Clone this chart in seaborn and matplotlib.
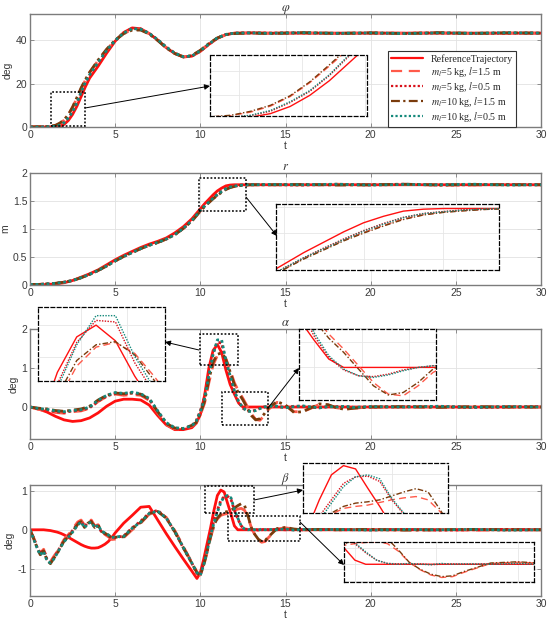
import numpy as np
import matplotlib
matplotlib.use("Agg")
import matplotlib.pyplot as plt
import seaborn as sns
from matplotlib.patches import Rectangle, FancyArrowPatch
from matplotlib.lines import Line2D
from matplotlib.ticker import MaxNLocator

# ---------------- data ----------------
t_phi = [0, 0.5, 1, 1.25, 1.5, 1.75, 2, 2.25, 2.5, 2.75, 3, 3.25, 3.5, 4, 4.5, 5, 5.5, 6, 6.5, 7,
         7.5, 8, 8.5, 9, 9.5, 10, 10.5, 11, 11.5, 12, 13, 14, 16, 18, 20, 22, 24, 26, 28, 30]
phi_ref = [0, 0, 0, 0, 0.1, 0.3, 1.2, 3.0, 5.8, 9.5, 14.0, 18.5, 22.5, 28.0, 34.0, 39.5, 43.5, 45.6, 45.2, 43.0,
           40.0, 36.5, 33.8, 32.2, 32.6, 34.8, 38.0, 40.8, 42.5, 43.2, 43.3, 43.2, 43.2, 43.2, 43.2, 43.2, 43.2, 43.2, 43.2, 43.2]
phi_m5_l15 = [0, 0.1, 0.2, 0.35, 0.7, 1.6, 3.1, 5.5, 9.0, 13.2, 17.6, 21.5, 25.0, 30.6, 35.6, 39.9, 43.0, 44.8, 44.8, 42.9,
              39.9, 36.5, 33.9, 32.3, 32.8, 35.2, 38.3, 40.9, 42.5, 43.1, 43.2, 43.1, 43.3, 43.0, 43.3, 43.1, 43.3, 43.0, 43.2, 43.2]
phi_m5_l05 = [0, 0, 0.1, 0.2, 0.3, 0.7, 1.8, 4.0, 6.8, 10.8, 15.7, 20.2, 23.8, 29.6, 35.0, 39.7, 43.3, 45.4, 45.1, 43.1,
              40.1, 36.7, 34.0, 32.3, 32.6, 34.9, 38.1, 40.9, 42.6, 43.2, 43.3, 43.2, 43.3, 43.0, 43.2, 43.1, 43.3, 43.0, 43.2, 43.2]
phi_m10_l15 = [0, 0.1, 0.2, 0.4, 0.8, 1.8, 3.3, 5.7, 9.2, 13.5, 18.0, 21.8, 25.2, 30.8, 35.8, 40.0, 43.0, 44.6, 44.6, 42.8,
               39.8, 36.4, 33.8, 32.3, 32.9, 35.3, 38.4, 41.0, 42.5, 43.0, 43.3, 43.0, 43.4, 43.1, 43.3, 43.0, 43.4, 43.1, 43.3, 43.2]
phi_m10_l05 = [0, 0, 0.1, 0.2, 0.3, 0.8, 2.0, 4.2, 7.0, 11.0, 16.0, 20.5, 24.0, 29.8, 35.2, 39.8, 43.3, 45.3, 45.0, 43.1,
               40.2, 36.8, 34.0, 32.3, 32.7, 35.0, 38.2, 41.0, 42.6, 43.2, 43.3, 43.1, 43.4, 43.1, 43.3, 43.0, 43.3, 43.1, 43.4, 43.2]

t_r = [0, 0.5, 1, 1.5, 2, 2.5, 3, 3.5, 4, 4.5, 5, 5.5, 6, 6.5, 7, 7.5, 8, 8.5, 9, 9.5, 10,
       10.25, 10.5, 10.75, 11, 11.25, 11.5, 11.75, 12, 12.25, 12.5, 12.75, 13, 14,
       16, 18, 20, 22, 24, 26, 28, 30]
r_ref = [0, 0, 0.01, 0.02, 0.04, 0.08, 0.14, 0.2, 0.27, 0.36, 0.45, 0.53, 0.6, 0.67, 0.73, 0.78, 0.84, 0.93, 1.04, 1.18, 1.36,
         1.45, 1.53, 1.61, 1.68, 1.73, 1.77, 1.785, 1.79, 1.79, 1.79, 1.79, 1.79, 1.79,
         1.79, 1.79, 1.79, 1.79, 1.79, 1.79, 1.79, 1.79]
r_m5_l15 = [0.01, 0.01, 0.02, 0.03, 0.05, 0.08, 0.13, 0.19, 0.26, 0.34, 0.43, 0.51, 0.58, 0.65, 0.71, 0.76, 0.82, 0.9, 1.01, 1.14, 1.32,
            1.405, 1.475, 1.545, 1.605, 1.66, 1.71, 1.742, 1.762, 1.774, 1.783, 1.788, 1.79, 1.79,
            1.79, 1.8, 1.785, 1.795, 1.79, 1.785, 1.795, 1.79]
r_m5_l05 = [0.01, 0.01, 0.02, 0.03, 0.05, 0.08, 0.13, 0.19, 0.26, 0.34, 0.43, 0.51, 0.58, 0.65, 0.71, 0.76, 0.82, 0.9, 1.01, 1.15, 1.33,
            1.41, 1.485, 1.555, 1.62, 1.675, 1.722, 1.752, 1.767, 1.78, 1.786, 1.79, 1.79, 1.79,
            1.785, 1.795, 1.79, 1.8, 1.785, 1.79, 1.795, 1.79]
r_m10_l15 = [0.01, 0.01, 0.02, 0.03, 0.05, 0.08, 0.13, 0.19, 0.26, 0.34, 0.43, 0.51, 0.58, 0.65, 0.71, 0.76, 0.82, 0.9, 1.01, 1.14, 1.32,
             1.40, 1.47, 1.54, 1.60, 1.655, 1.705, 1.74, 1.76, 1.772, 1.782, 1.788, 1.79, 1.79,
             1.795, 1.785, 1.79, 1.8, 1.785, 1.795, 1.79, 1.79]
r_m10_l05 = [0.01, 0.01, 0.02, 0.03, 0.05, 0.08, 0.13, 0.19, 0.26, 0.34, 0.43, 0.51, 0.58, 0.65, 0.71, 0.76, 0.82, 0.9, 1.01, 1.15, 1.33,
             1.41, 1.48, 1.55, 1.615, 1.67, 1.72, 1.75, 1.765, 1.778, 1.785, 1.79, 1.79, 1.795,
             1.79, 1.8, 1.785, 1.795, 1.79, 1.8, 1.785, 1.79]

t_a = [0, 0.5, 1, 1.5, 2, 2.5, 3, 3.5, 4, 4.5, 5, 5.5, 6, 6.5, 7, 7.5, 8, 8.5, 9, 9.5,
       9.75, 10, 10.25, 10.5, 10.75, 11, 11.25, 11.5, 11.75, 12, 12.25, 12.5, 12.75, 13, 13.25, 13.5, 13.75, 14,
       14.5, 15, 15.5, 16, 16.5, 17, 17.5, 18, 18.5, 19,
       20, 22, 24, 26, 28, 30]
a_ref = [0, -0.05, -0.13, -0.24, -0.33, -0.37, -0.35, -0.28, -0.15, 0.02, 0.15, 0.2, 0.2, 0.18, 0.05, -0.22, -0.46, -0.58, -0.58, -0.53,
         -0.42, -0.2, 0.3, 1.0, 1.45, 1.6, 1.4, 0.95, 0.58, 0.33, 0.1, 0.0, 0, 0, 0, 0, 0, 0,
         0, 0, 0, 0, 0, 0, 0, 0, 0, 0,
         0, 0, 0, 0, 0, 0]
a_m5_l15 = [0, -0.06, -0.1, -0.14, -0.16, -0.12, -0.1, -0.03, 0.14, 0.27, 0.33, 0.3, 0.32, 0.3, 0.17, -0.15, -0.45, -0.56, -0.57, -0.49,
            -0.42, -0.2, 0.1, 0.62, 1.08, 1.32, 1.38, 1.24, 0.95, 0.62, 0.4, 0.22, 0.02, -0.18, -0.32, -0.34, -0.22, -0.06,
            0.12, 0.04, -0.12, -0.12, -0.03, 0.07, 0.05, -0.02, -0.05, -0.03,
            0.0, 0.0, 0.01, -0.01, 0.01, 0.0]
a_m5_l05 = [0, -0.05, -0.07, -0.12, -0.14, -0.1, -0.08, -0.02, 0.15, 0.28, 0.35, 0.33, 0.36, 0.32, 0.2, -0.12, -0.42, -0.55, -0.56, -0.48,
            -0.36, -0.1, 0.25, 0.85, 1.38, 1.66, 1.64, 1.12, 0.74, 0.38, 0.12, -0.03, -0.1, -0.11, -0.08, -0.03, 0.0, 0.02,
            0.01, -0.01, 0.02, 0.02, -0.01, -0.02, 0.01, 0.01, 0.01, -0.01,
            0.0, 0.01, 0.01, -0.01, 0.0, 0.01]
a_m10_l15 = [0, -0.03, -0.05, -0.09, -0.11, -0.08, -0.05, 0.02, 0.18, 0.3, 0.36, 0.34, 0.36, 0.33, 0.2, -0.12, -0.42, -0.54, -0.55, -0.47,
             -0.4, -0.16, 0.15, 0.7, 1.15, 1.35, 1.39, 1.22, 0.9, 0.57, 0.35, 0.18, -0.02, -0.22, -0.33, -0.3, -0.18, -0.02,
             0.14, 0.05, -0.14, -0.12, -0.02, 0.08, 0.06, -0.02, -0.06, -0.03,
             0.0, 0.01, -0.01, 0.01, 0.0, 0.0]
a_m10_l05 = [0, -0.04, -0.06, -0.1, -0.12, -0.09, -0.07, 0.0, 0.17, 0.3, 0.37, 0.35, 0.38, 0.34, 0.22, -0.1, -0.4, -0.53, -0.55, -0.48,
             -0.38, -0.12, 0.22, 0.8, 1.35, 1.72, 1.72, 1.2, 0.8, 0.42, 0.14, -0.02, -0.1, -0.12, -0.09, -0.04, 0.0, 0.02,
             0.02, -0.02, 0.01, 0.03, 0.0, -0.02, 0.01, 0.0, 0.02, -0.01,
             0.01, 0.0, 0.02, -0.01, 0.01, 0.0]

t_b = [0, 0.2, 0.4, 0.6, 0.8, 1.0, 1.2, 1.4, 1.6, 1.8, 2.0, 2.2, 2.4, 2.6, 2.8, 3.0, 3.2, 3.4, 3.6, 3.8, 4.0,
       4.2, 4.4, 4.6, 4.8, 5.0,
       5.5, 6.0, 6.5, 7.0, 7.5, 8.0, 8.5, 9.0, 9.5, 9.8,
       10.0, 10.2, 10.4, 10.6, 10.8, 11.0, 11.2, 11.4, 11.6, 11.8, 12.0, 12.2, 12.4, 12.6, 12.8, 13.0, 13.2, 13.4, 13.6, 13.8, 14.0,
       14.5, 15.0, 15.5, 16, 17, 18, 20, 22, 24, 26, 28, 30]
b_ref = [0, 0, 0, 0, 0, -0.01, -0.02, -0.04, -0.06, -0.09, -0.13, -0.18, -0.23, -0.28, -0.33, -0.38, -0.42, -0.45, -0.47, -0.47, -0.46,
         -0.42, -0.37, -0.3, -0.2, -0.08,
         0.17, 0.37, 0.58, 0.6, 0.25, -0.1, -0.43, -0.75, -1.06, -1.25,
         -1.1, -0.75, -0.35, 0.05, 0.5, 0.88, 1.02, 0.97, 0.68, 0.4, 0.1, 0, 0, 0, 0, 0, 0, 0, 0, 0, 0,
         0, 0, 0, 0, 0, 0, 0, 0, 0, 0, 0, 0]
b_m5_l15 = [0, -0.19, -0.4, -0.6, -0.5, -0.74, -0.82, -0.68, -0.56, -0.4, -0.25, -0.15, -0.05, 0.08, 0.2, 0.25, 0.12, 0.22, 0.25, 0.1, 0.13,
            -0.04, -0.12, -0.18, -0.25, -0.24,
            -0.2, 0.0, 0.17, 0.4, 0.46, 0.32, -0.02, -0.43, -0.84, -1.08,
            -1.16, -0.92, -0.58, -0.2, 0.1, 0.28, 0.37, 0.4, 0.42, 0.46, 0.5, 0.53, 0.55, 0.5, 0.32, 0.05, -0.13, -0.26, -0.32, -0.3, -0.2,
            0.02, 0.05, 0.02, 0.0, 0.0, 0.01, 0.0, 0.0, 0.01, -0.01, 0.0, 0.0]
b_m5_l05 = [0, -0.2, -0.43, -0.62, -0.52, -0.76, -0.85, -0.72, -0.58, -0.42, -0.28, -0.18, -0.08, 0.04, 0.16, 0.22, 0.08, 0.18, 0.22, 0.08, 0.1,
            -0.06, -0.1, -0.15, -0.22, -0.2,
            -0.16, 0.05, 0.22, 0.43, 0.5, 0.3, -0.05, -0.46, -0.86, -1.12,
            -1.15, -0.85, -0.5, -0.1, 0.25, 0.5, 0.75, 0.85, 0.86, 0.78, 0.5, 0.28, 0.1, 0.02, 0.01, 0.0, 0.01, -0.01, 0.0, 0.01, 0.0,
            0.01, 0.0, 0.01, 0.0, 0.01, 0.0, 0.0, 0.01, -0.01, 0.0, 0.01, 0.0]
b_m10_l15 = [0, -0.21, -0.44, -0.64, -0.54, -0.78, -0.87, -0.73, -0.61, -0.44, -0.29, -0.2, -0.1, 0.02, 0.14, 0.21, 0.06, 0.17, 0.21, 0.06, 0.12,
             -0.04, -0.09, -0.14, -0.21, -0.19,
             -0.18, 0.03, 0.19, 0.41, 0.47, 0.3, -0.05, -0.46, -0.86, -1.1,
             -1.17, -0.9, -0.55, -0.18, 0.12, 0.3, 0.4, 0.45, 0.47, 0.5, 0.56, 0.62, 0.67, 0.62, 0.35, 0.05, -0.12, -0.24, -0.3, -0.28, -0.18,
             0.03, 0.06, 0.02, 0.0, 0.01, 0.0, 0.01, -0.01, 0.0, 0.01, 0.0, 0.0]
b_m10_l05 = [0, -0.22, -0.45, -0.65, -0.55, -0.8, -0.85, -0.75, -0.6, -0.45, -0.3, -0.22, -0.12, 0.0, 0.12, 0.2, 0.05, 0.16, 0.2, 0.05, 0.12,
             -0.04, -0.08, -0.13, -0.2, -0.18,
             -0.17, 0.04, 0.2, 0.42, 0.48, 0.3, -0.04, -0.45, -0.85, -1.1,
             -1.17, -0.9, -0.55, -0.15, 0.18, 0.45, 0.7, 0.85, 0.88, 0.82, 0.52, 0.3, 0.1, 0.02, 0.0, 0.02, 0.0, -0.01, 0.02, 0.0, 0.01,
             0.0, 0.02, -0.01, 0.01, 0.0, 0.01, -0.01, 0.01, 0.0, 0.01, -0.01, 0.0]

series_keys = ["ref", "m5l15", "m5l05", "m10l15", "m10l05"]
labels = ["ReferenceTrajectory",
          r"$m_l$=5 kg, $l$=1.5 m",
          r"$m_l$=5 kg, $l$=0.5 m",
          r"$m_l$=10 kg, $l$=1.5 m",
          r"$m_l$=10 kg, $l$=0.5 m"]

# ---------------- style ----------------
sns.set_style("whitegrid")
plt.rcParams["font.family"] = ["Liberation Sans", "DejaVu Sans"]
plt.rcParams["mathtext.fontset"] = "stix"

COL = {"ref": "#ff1010", "m5l15": "#ff5a4a", "m5l05": "#d8101a",
       "m10l15": "#7a3b0c", "m10l05": "#14897b"}
LS = {"ref": "-", "m5l15": (0, (5, 3)), "m5l05": (0, (1, 1)),
      "m10l15": (0, (4, 1.5, 1, 1.5)), "m10l05": (0, (1, 1))}

W, H = 550, 628
fig = plt.figure(figsize=(W / 100, H / 100), dpi=100)
fig.patch.set_facecolor("white")


def fr(x0, y0, x1, y1):
    return [x0 / W, 1 - y1 / H, (x1 - x0) / W, (y1 - y0) / H]


def pf(x, y):
    return (x / W, 1 - y / H)


def draw(ax, t, ys, lw):
    for k, y in zip(series_keys, ys):
        sns.lineplot(x=np.asarray(t, float), y=np.asarray(y, float), ax=ax, color=COL[k],
                     linestyle=LS[k], linewidth=lw, estimator=None, sort=False, legend=False)


def main_ax(box, t, ys, ylim, yticks, yticklabels, title, ylabel):
    ax = fig.add_axes(fr(*box))
    draw(ax, t, ys, 2.0)
    ax.set_xlim(0, 30)
    ax.set_ylim(*ylim)
    ax.set_xticks(range(0, 31, 5))
    ax.set_yticks(yticks)
    ax.set_yticklabels(yticklabels)
    ax.grid(True, color="#e2e2e2", lw=0.6)
    ax.set_facecolor("white")
    for s in ax.spines.values():
        s.set_visible(True)
        s.set_color("#7c7c7c")
        s.set_linewidth(1.0)
    ax.tick_params(direction="in", length=3, width=0.6, color="#7c7c7c", labelcolor="#3a3a3a",
                   labelsize=7.5, top=True, right=True, bottom=True, left=True, pad=2)
    ax.set_title(title, fontsize=9, pad=2, color="#333333")
    ax.set_xlabel("t", fontsize=7.5, labelpad=1, color="#3a3a3a")
    ax.set_ylabel(ylabel, fontsize=7.5, labelpad=2, color="#3a3a3a")
    return ax


def inset(box, t, ys, xlim, ylim):
    ax = fig.add_axes(fr(*box))
    draw(ax, t, ys, 1.0)
    ax.set_xlim(*xlim)
    ax.set_ylim(*ylim)
    ax.xaxis.set_major_locator(MaxNLocator(3))
    ax.yaxis.set_major_locator(MaxNLocator(3))
    ax.set_xticklabels([])
    ax.set_yticklabels([])
    ax.set_xlabel("")
    ax.set_ylabel("")
    ax.tick_params(length=0)
    ax.grid(True, color="#e6e6e6", lw=0.6)
    ax.set_facecolor("white")
    for s in ax.spines.values():
        s.set_visible(True)
        s.set_color("black")
        s.set_linewidth(0.9)
        s.set_linestyle((0, (3, 2)))
    return ax


def src_rect(ax, x0, y0, x1, y1):
    ax.add_patch(Rectangle((x0, y0), x1 - x0, y1 - y0, fill=False, ec="black",
                           lw=1.1, ls=(0, (1.2, 1.2)), zorder=6))


def arrow(p0, p1):
    fig.add_artist(FancyArrowPatch(pf(*p0), pf(*p1), transform=fig.transFigure,
                                   arrowstyle="-|>", mutation_scale=8, lw=0.7,
                                   color="black", shrinkA=0, shrinkB=0, zorder=10))


# ---------------- panels ----------------
ys_phi = [phi_ref, phi_m5_l15, phi_m5_l05, phi_m10_l15, phi_m10_l05]
ys_r = [r_ref, r_m5_l15, r_m5_l05, r_m10_l15, r_m10_l05]
ys_a = [a_ref, a_m5_l15, a_m5_l05, a_m10_l15, a_m10_l05]
ys_b = [b_ref, b_m5_l15, b_m5_l05, b_m10_l15, b_m10_l05]

ax1 = main_ax((30, 14, 541, 127), t_phi, ys_phi, (0, 52), [0, 20, 40], ["0", "20", "40"],
              r"$\varphi$", "deg")
ax2 = main_ax((30, 173, 541, 285), t_r, ys_r, (0, 2), [0, 0.5, 1, 1.5, 2],
              ["0", "0.5", "1", "1.5", "2"], r"$r$", "m")
ax3 = main_ax((30, 329, 541, 439), t_a, ys_a, (-0.82, 2), [0, 1, 2], ["0", "1", "2"],
              r"$\alpha$", "deg")
ax4 = main_ax((30, 485, 541, 596), t_b, ys_b, (-1.7, 1.15), [-1, 0, 1], ["-1", "0", "1"],
              r"$\beta$", "deg")

# legend
handles = [Line2D([], [], color=COL[k], linestyle=LS[k], lw=1.6) for k in series_keys]
leg = ax1.legend(handles, labels, loc="upper left", bbox_to_anchor=pf(388, 51),
                 bbox_transform=fig.transFigure, prop={"family": "Liberation Serif", "size": 7.2},
                 frameon=True, fancybox=False, edgecolor="#333333", framealpha=1,
                 borderpad=0.3, labelspacing=0.1, handlelength=3.2, handletextpad=0.8,
                 borderaxespad=0)
leg.get_frame().set_linewidth(0.8)
leg.set_zorder(20)

# source rectangles
src_rect(ax1, 1.23, 0.6, 3.23, 16.1)
src_rect(ax2, 9.9, 1.32, 12.7, 1.91)
src_rect(ax3, 9.98, 1.08, 12.22, 1.86)
src_rect(ax3, 11.25, -0.46, 13.99, 0.39)
src_rect(ax4, 10.27, 0.43, 13.15, 1.13)
src_rect(ax4, 11.64, -0.28, 15.85, 0.36)

# insets
inset((210, 55, 367, 116), t_phi, ys_phi, (1.23, 3.23), (0.6, 16))
inset((276, 204, 499, 270), t_r, ys_r, (9.9, 12.7), (1.315, 1.825))
inset((38, 307, 165, 381), t_a, ys_a, (10.25, 11.89), (0.89, 1.83))
inset((299, 329, 436, 400), t_a, ys_a, (11.75, 14.05), (-0.39, 0.46))
inset((303, 463, 448, 513), t_b, ys_b, (10.53, 12.93), (0.3, 1.06))
inset((344, 542, 534, 582), t_b, ys_b, (11.8, 15.3), (-0.43, 0.54))

# arrows
arrow((85, 108), (210, 86))
arrow((246, 197), (277, 236))
arrow((199, 350), (165, 342))
arrow((268, 408), (299, 368))
arrow((254, 500), (303, 490))
arrow((300, 522), (344, 565))

fig.savefig("out.png", dpi=100, facecolor="white")
